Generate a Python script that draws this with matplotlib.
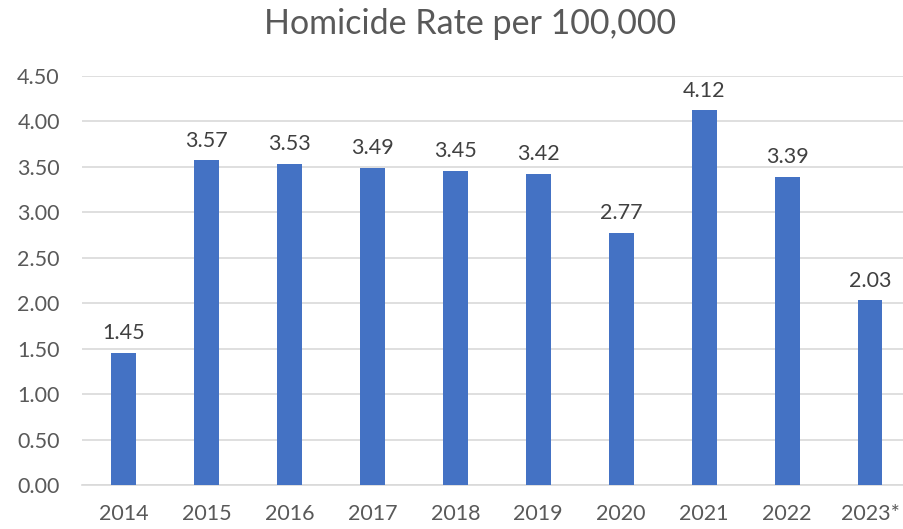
import matplotlib
matplotlib.use("Agg")
import matplotlib.pyplot as plt

years = ["2014", "2015", "2016", "2017", "2018", "2019", "2020", "2021", "2022", "2023*"]
rates = [1.45, 3.57, 3.53, 3.49, 3.45, 3.42, 2.77, 4.12, 3.39, 2.03]
yticks = [0.0, 0.5, 1.0, 1.5, 2.0, 2.5, 3.0, 3.5, 4.0, 4.5]

plt.rcParams['font.family'] = ['Lato', 'DejaVu Sans']

fig = plt.figure(figsize=(9.04, 5.29), dpi=100)
ax = fig.add_axes([82/904, 1 - 485/529, (911.5 - 82)/904, (485 - 75.7)/529])

x = range(len(years))
bars = ax.bar(x, rates, width=0.30, color="#4472C4", zorder=3)
for xi, v in zip(x, rates):
    ax.annotate(f"{v:.2f}", (xi, v), xytext=(0, 7), textcoords="offset points",
                ha="center", va="bottom", fontsize=15.5, color="#404040")

ax.set_xlim(-0.5, len(years) - 0.5)
ax.set_ylim(0, 4.5)
ax.set_yticks(yticks)
ax.set_yticklabels([f"{t:.2f}" for t in yticks])
ax.set_xticks(list(x))
ax.set_xticklabels(years)
ax.tick_params(axis="both", length=0, labelsize=15.5, labelcolor="#595959")
ax.tick_params(axis="y", pad=16)
ax.tick_params(axis="x", pad=14)
ax.grid(axis="y", color="#D9D9D9", linewidth=1.2, zorder=0)
for s in ["top", "right", "left"]:
    ax.spines[s].set_visible(False)
ax.spines["bottom"].set_color("#D9D9D9")
ax.spines["bottom"].set_linewidth(1.2)

fig.text(0.52, 0.955, "Homicide Rate per 100,000", ha="center", va="center",
         fontsize=24.5, color="#595959")

fig.savefig("out.png", dpi=100)
